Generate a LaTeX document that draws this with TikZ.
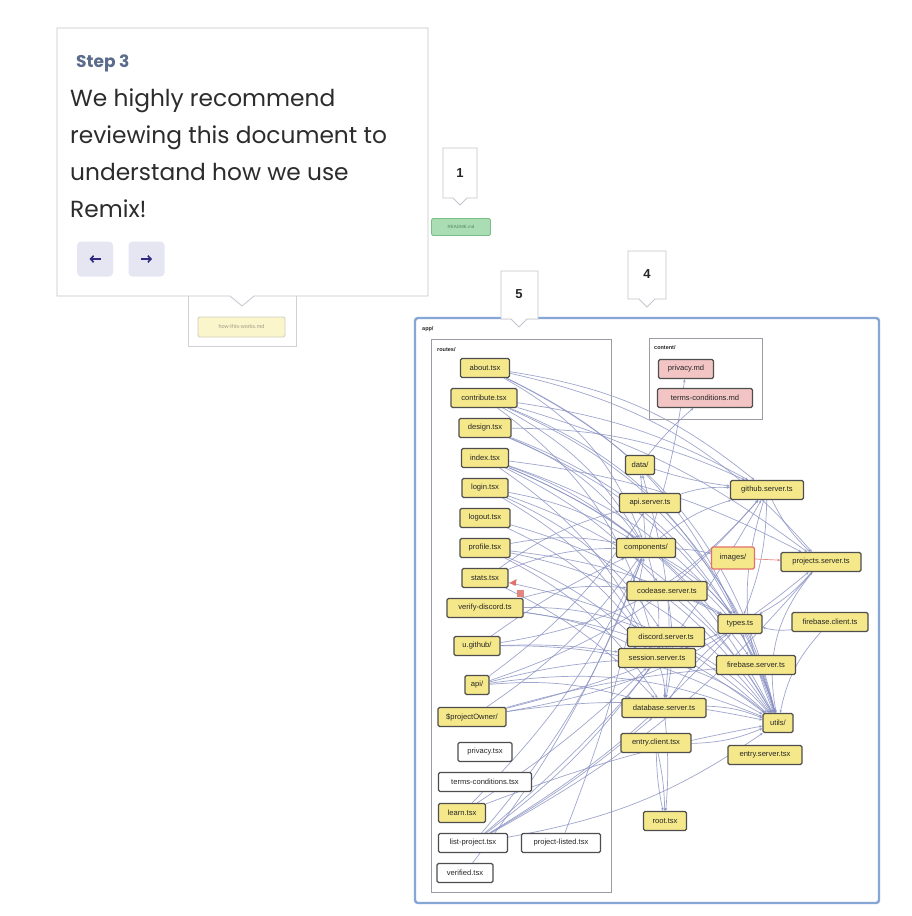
\documentclass[tikz,border=0pt]{standalone}
\usepackage{fontspec}
\setmainfont{Poppins}
\newfontfamily\nodefont{Liberation Sans}
\usetikzlibrary{arrows.meta,calc}
\definecolor{tipborder}{HTML}{C4C6CE}
\definecolor{steptxt}{HTML}{5B6B8C}
\definecolor{bodytxt}{HTML}{2C2C2C}
\definecolor{btnfill}{HTML}{E6E6F3}
\definecolor{btnarrow}{HTML}{2E2B7E}
\definecolor{appblue}{HTML}{86A6D6}
\definecolor{boxgray}{HTML}{9A9CA4}
\definecolor{filey}{HTML}{F5E88A}
\definecolor{filepink}{HTML}{F2C4C4}
\definecolor{fileborder}{HTML}{4E4E4E}
\definecolor{edgecol}{HTML}{8890C2}
\definecolor{imgred}{HTML}{E2706A}
\definecolor{greenfill}{HTML}{ABDDB4}
\definecolor{greenline}{HTML}{78BE88}
\pgfdeclarelayer{bg}
\pgfdeclarelayer{edgelayer}
\pgfsetlayers{bg,edgelayer,main}
\tikzset{
  fnode/.style={draw=fileborder, line width=1.1pt, rounded corners=1.5pt,
    minimum height=19, inner sep=1pt, text=black!85,
    font=\nodefont\fontsize{7.6}{8}\selectfont},
  ynode/.style={fnode, fill=filey},
  pnode/.style={fnode, fill=filepink},
  wnode/.style={fnode, fill=white},
  inode/.style={fnode, fill=filey, draw=imgred},
  edge/.style={draw=edgecol, line width=0.7pt, opacity=0.8,
    -{Stealth[length=3.2pt,width=2.6pt]}},
  folder/.style={draw=boxgray, line width=0.7pt},
  folderlabel/.style={anchor=west, inner sep=0pt, text=black!85,
    font=\nodefont\bfseries\fontsize{5.5}{6}\selectfont},
  callout/.style={draw=tipborder, fill=white, line width=0.8pt},
  calloutnum/.style={font=\nodefont\bfseries\fontsize{13}{14}\selectfont, text=black!85},
  btn/.style={fill=btnfill, rounded corners=4pt, minimum width=36, minimum height=35, inner sep=0pt},
  btnarrow/.style={draw=btnarrow, line width=1.6pt, -{Straight Barb[length=3pt,width=6.5pt]}},
  tiptext/.style={anchor=base west, inner sep=0pt, text=bodytxt,
    font=\fontsize{23.3}{26}\selectfont}
}
\begin{document}
\begin{tikzpicture}[x=1pt,y=-1pt]
\begin{pgfonlayer}{bg}
  \fill[white] (0,0) rectangle (912,916);
\end{pgfonlayer}
\useasboundingbox (0,0) rectangle (912,916);

% ---------- folders ----------
\draw[draw=appblue, line width=2.4pt, rounded corners=3pt] (415,318) rectangle (879,903);
\node[folderlabel] (applbl) at (422,329) {app/};
\draw[folder] (431,339) rectangle (611,892);
\node[folderlabel] (routeslbl) at (437,350) {routes/};
\draw[folder] (649,338) rectangle (762,419);
\node[folderlabel] (contentlbl) at (654,348) {content/};

% ---------- routes/ ----------
\node[ynode, minimum width=49] (about)    at (485,368) {about.tsx};
\node[ynode, minimum width=66] (contrib)  at (484,398) {contribute.tsx};
\node[ynode, minimum width=52] (design)   at (485,428) {design.tsx};
\node[ynode, minimum width=47] (index)    at (485,458) {index.tsx};
\node[ynode, minimum width=46] (login)    at (485,488) {login.tsx};
\node[ynode, minimum width=50] (logout)   at (485,518) {logout.tsx};
\node[ynode, minimum width=50] (profile)  at (485,548) {profile.tsx};
\node[ynode, minimum width=46] (stats)    at (485,578) {stats.tsx};
\node[ynode, minimum width=76] (verify)   at (485,608) {verify-discord.ts};
\node[ynode, minimum width=46] (ugh)      at (477,646) {u.github/};
\node[ynode, minimum width=24] (api)      at (477,685) {api/};
\node[ynode, minimum width=68] (powner)   at (472,717) {\$projectOwner/};
\node[wnode, minimum width=54] (privtsx)  at (485,752) {privacy.tsx};
\node[wnode, minimum width=93] (termstsx) at (485,782) {terms-conditions.tsx};
\node[ynode, minimum width=47] (learn)    at (462,813) {learn.tsx};
\node[wnode, minimum width=69] (listp)    at (473,843) {list-project.tsx};
\node[wnode, minimum width=79] (plisted)  at (561,843) {project-listed.tsx};
\node[wnode, minimum width=56] (verified) at (465,873) {verified.tsx};

% warning marks beside stats.tsx
\fill[imgred] ($(stats.east)+(1,5)$) -- ++(7,-4) -- ++(-1,7) -- cycle;
\node[fill=imgred!85, minimum size=7, inner sep=0pt] (warn) at (520.5,593) {};

% ---------- content/ ----------
\node[pnode, minimum width=55] (privmd)  at (686,369) {privacy.md};
\node[pnode, minimum width=95] (termsmd) at (705,398) {terms-conditions.md};

% ---------- other modules ----------
\node[ynode, minimum width=29] (data)     at (640,465) {data/};
\node[ynode, minimum width=61] (apisrv)   at (650,503) {api.server.ts};
\node[ynode, minimum width=73] (github)   at (767,490) {github.server.ts};
\node[ynode, minimum width=59] (comp)     at (646,548) {components/};
\node[inode, minimum width=43, minimum height=22] (images) at (733,558) {images/};
\node[ynode, minimum width=80] (projsrv)  at (821,562) {projects.server.ts};
\node[ynode, minimum width=80] (codease)  at (667,591) {codease.server.ts};
\node[ynode, minimum width=44] (types)    at (740,624) {types.ts};
\node[ynode, minimum width=76] (fbclient) at (830,622) {firebase.client.ts};
\node[ynode, minimum width=77] (discord)  at (666,637) {discord.server.ts};
\node[ynode, minimum width=77] (session)  at (657,658) {session.server.ts};
\node[ynode, minimum width=79] (fbserver) at (756,665) {firebase.server.ts};
\node[ynode, minimum width=84] (db)       at (664,708) {database.server.ts};
\node[ynode, minimum width=30] (utils)    at (778,723) {utils/};
\node[ynode, minimum width=70] (entcl)    at (656,743) {entry.client.tsx};
\node[ynode, minimum width=74] (entsrv)   at (765,755) {entry.server.tsx};
\node[ynode, minimum width=43] (root)     at (665,821) {root.tsx};

% ---------- import edges ----------
\begin{pgfonlayer}{edgelayer}
\foreach \s/\t/\b in {
  about/comp/20, about/utils/25, about/github/15, about/types/20, about/projsrv/18,
  contrib/comp/15, contrib/utils/25, contrib/types/20, contrib/session/20, contrib/github/10, contrib/projsrv/10,
  design/comp/15, design/utils/25, design/types/15, design/github/12,
  index/comp/10, index/utils/20, index/projsrv/10, index/types/15, index/session/15, index/fbserver/15, index/codease/10,
  login/session/15, login/comp/10, login/utils/20, login/discord/15,
  logout/session/15, logout/utils/20,
  profile/comp/10, profile/utils/20, profile/types/10, profile/db/15, profile/session/10,
  stats/comp/10, stats/utils/15, stats/db/10, stats/apisrv/10,
  verify/discord/10, verify/session/10, verify/utils/15, verify/codease/10,
  ugh/github/-20, ugh/comp/5, ugh/utils/15, ugh/session/5,
  api/apisrv/-10, api/utils/15, api/session/5, api/db/10, api/github/-15,
  powner/comp/-10, powner/utils/10, powner/projsrv/-15, powner/types/-5, powner/fbserver/5,
  learn/comp/-10, learn/utils/5, learn/session/-5,
  listp/comp/-10, listp/utils/-12, listp/projsrv/-10, listp/types/-8, listp/db/-5, listp/session/-8, listp/github/-10,
  plisted/comp/-5, verified/comp/-8,
  comp/privmd/-5, data/termsmd/5,
  apisrv/data/0, apisrv/github/10, apisrv/utils/15, apisrv/db/10,
  comp/utils/20, comp/types/10, comp/images/5, comp/data/0, comp/github/10, comp/session/10,
  data/github/-5,
  github/types/10, github/utils/-20, github/projsrv/-10,
  projsrv/types/10, projsrv/utils/-25,
  codease/utils/10, codease/types/5, codease/db/10,
  discord/session/5, discord/utils/10,
  session/db/10, session/utils/10,
  fbserver/utils/5, fbserver/types/5,
  fbclient/utils/-15, fbclient/types/10,
  db/utils/10, db/types/10, db/root/5,
  types/utils/5,
  entcl/root/5, entcl/root/-5, entcl/utils/-10}
  \draw[edge] (\s) to[bend left=\b] (\t);
\draw[edge, draw=imgred] (images) -- (projsrv);
\end{pgfonlayer}

% ---------- README and how-this-works ----------
\node[fill=greenfill, draw=greenline, line width=0.8pt, rounded corners=1.5pt,
      minimum width=59, minimum height=17, inner sep=0pt, text=greenline!70!black,
      font=\nodefont\fontsize{4.5}{5}\selectfont] (readme) at (461,227) {README.md};
\draw[draw=tipborder!80, line width=0.7pt] (188,285) rectangle (296,346);
\node[fill=filey!45, draw=filey!50!black!35, line width=0.9pt, rounded corners=1.5pt,
      minimum width=87, minimum height=20, inner sep=0pt, text=filey!40!black!60,
      font=\nodefont\fontsize{5.5}{6}\selectfont] (howto) at (241.5,327) {how-this-works.md};

% ---------- numbered callouts ----------
\draw[callout] (443,148) -- (477,148) -- (477,198) -- (467,198) -- (460,205) -- (453,198) -- (443,198) -- cycle;
\node[calloutnum] (m1) at (460,173) {1};
\draw[callout] (628,251) -- (666,251) -- (666,299) -- (655,299) -- (647,307) -- (639,299) -- (628,299) -- cycle;
\node[calloutnum] (m4) at (647,274) {4};
\draw[callout] (501,271) -- (538,271) -- (538,319) -- (527,319) -- (519,327) -- (511,319) -- (501,319) -- cycle;
\node[calloutnum] (m5) at (519,294) {5};

% ---------- step tooltip ----------
\draw[callout, draw=tipborder] (57,28) -- (428,28) -- (428,296) -- (254,296) -- (242,306) -- (230,296) -- (57,296) -- cycle;
\node[anchor=base west, inner sep=0pt, text=steptxt,
      font=\fontsize{17}{18}\selectfont\bfseries] (steplbl) at (76,67) {Step 3};
\node[tiptext] (l1) at (70,106) {We highly recommend};
\node[tiptext] (l2) at (70,143) {reviewing this document to};
\node[tiptext] (l3) at (70,180) {understand how we use};
\node[tiptext] (l4) at (70,217) {Remix!};
\node[btn] (prev) at (95,259) {};
\node[btn] (next) at (146.5,259) {};
\draw[btnarrow] ($(prev.center)+(5.5,0)$) -- ($(prev.center)+(-5.5,0)$);
\draw[btnarrow] ($(next.center)+(-5.5,0)$) -- ($(next.center)+(5.5,0)$);
\end{tikzpicture}
\end{document}
